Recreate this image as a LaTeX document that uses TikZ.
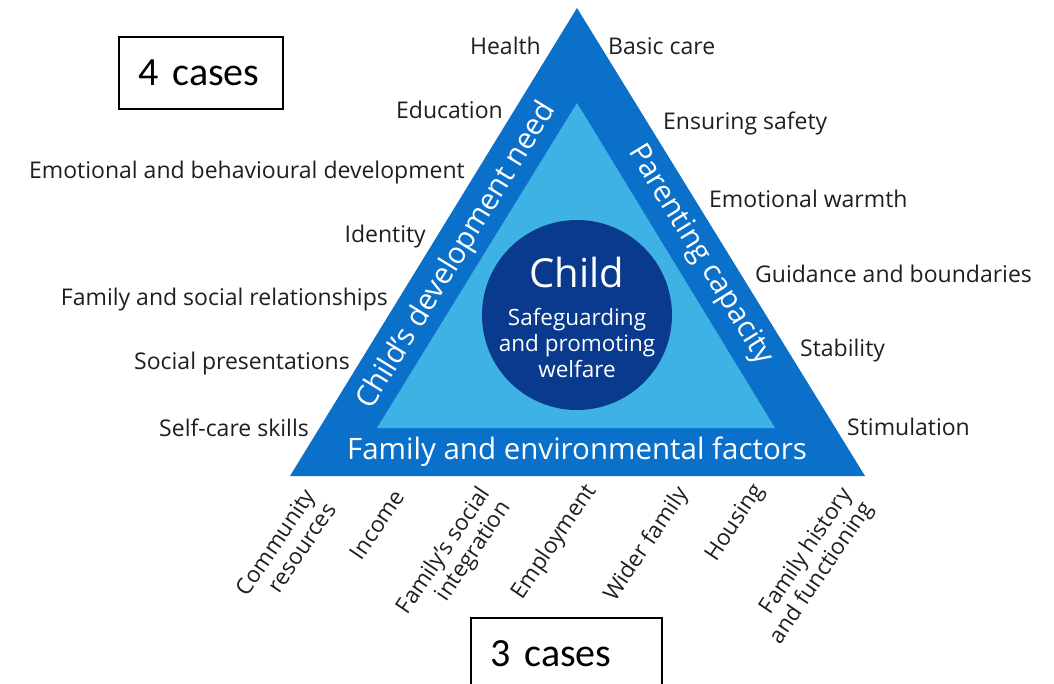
\documentclass[tikz,border=0pt]{standalone}
\usepackage{fontspec}
\setmainfont{Open Sans}
\newfontfamily\calib{Carlito}
\definecolor{outerblue}{HTML}{0A70CA}
\definecolor{innerblue}{HTML}{3FB2E5}
\definecolor{navy}{HTML}{0A3A8E}
\begin{document}
\begin{tikzpicture}[x=1pt,y=-1pt,
  lab/.style={inner sep=0pt, text=black!88, font=\fontsize{23}{26}\selectfont},
  llab/.style={lab, anchor=east},
  rlab/.style={lab, anchor=west},
  blab/.style={lab, anchor=east, rotate=56, align=right, font=\fontsize{22.5}{25}\selectfont},
  band/.style={inner sep=0pt, text=white, font=\fontsize{29.5}{32}\selectfont},
  casebox/.style={draw=black, line width=1.6pt, anchor=north west, minimum height=72, inner xsep=20, align=left, font=\calib\fontsize{40}{44}\selectfont}
]
\useasboundingbox (0,0) rectangle (1054,683);
\clip (0,0) rectangle (1054,683);
\fill[white] (0,0) rectangle (1054,683);
% triangles
\coordinate (A) at (577,8);
\coordinate (B) at (290,476);
\coordinate (C) at (865,476);
\coordinate (a) at (577,103);
\coordinate (b) at (377,428);
\coordinate (c) at (775,428);
\fill[outerblue] (A) -- (B) -- (C) -- cycle;
\fill[innerblue] (a) -- (b) -- (c) -- cycle;
\node[circle, fill=navy, minimum size=190, inner sep=0pt] (child) at (577,315) {};
\node[text=white, inner sep=0pt, font=\fontsize{40}{42}\selectfont] (childt) at (577,272) {Child};
\node[text=white, inner sep=0pt, align=center, font=\fontsize{22.5}{26}\selectfont] (sub) at (577,343) {Safeguarding\\and promoting\\welfare};
% band labels
\node[band, rotate=58.5] (cdn) at (457,256) {Child's development need};
\node[band, rotate=-58.5] (pc) at (700,255) {Parenting capacity};
\node[band] (fef) at (577,452) {Family and environmental factors};
% left labels
\node[llab] (l1) at (541,46) {Health};
\node[llab] (l2) at (503,110) {Education};
\node[llab] (l3) at (465,173) {Emotional and behavioural development};
\node[llab] (l4) at (426,237) {Identity};
\node[llab] (l5) at (388,300) {Family and social relationships};
\node[llab] (l6) at (350,364) {Social presentations};
\node[llab] (l7) at (309,428) {Self-care skills};
% right labels
\node[rlab] (r1) at (608,46) {Basic care};
\node[rlab] (r2) at (663,123) {Ensuring safety};
\node[rlab] (r3) at (709,199) {Emotional warmth};
\node[rlab] (r4) at (755,274) {Guidance and boundaries};
\node[rlab] (r5) at (800,351) {Stability};
\node[rlab] (r6) at (847,427) {Stimulation};
% bottom labels
\node[blab] (b1) at (320,498) {Community\\resources};
\node[blab] (b2) at (399,492) {Income};
\node[blab] (b3) at (496,497) {Family's social\\integration};
\node[blab] (b4) at (592,487) {Employment};
\node[blab] (b5) at (684,490) {Wider family};
\node[blab] (b6) at (760,487) {Housing};
\node[blab] (b7) at (858,498) {Family history\\and functioning};
% case boxes
\node[casebox, text width=124] (c4) at (118,36) {4 cases};
\node[casebox, text width=151] (c3) at (470,617) {3 cases};
\end{tikzpicture}
\end{document}
